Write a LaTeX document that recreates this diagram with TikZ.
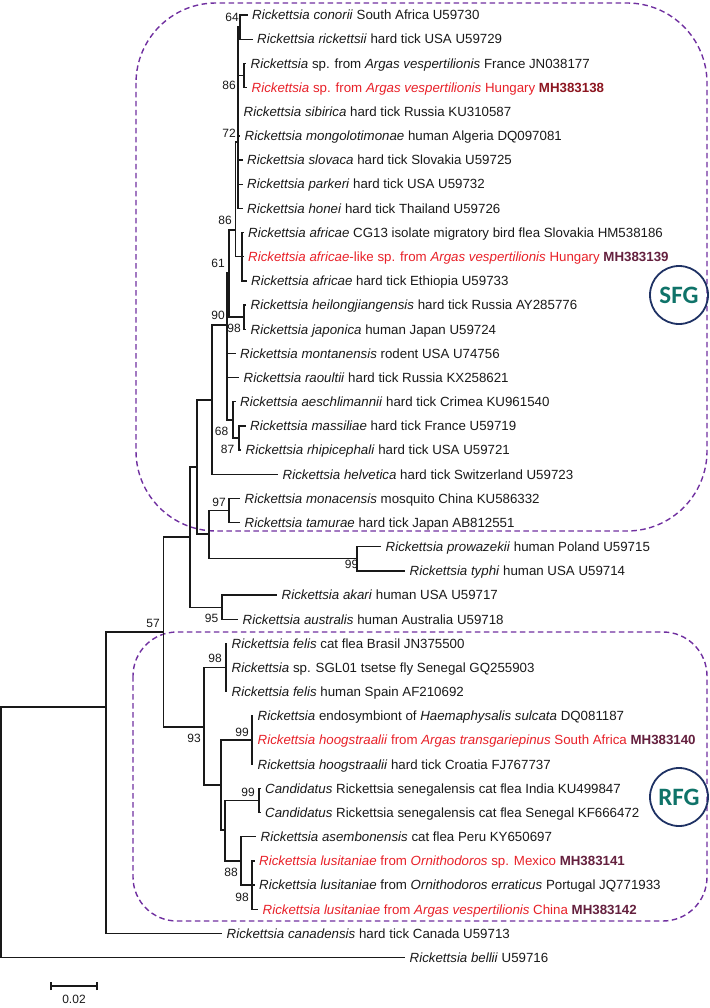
\documentclass[tikz,border=0pt]{standalone}
\usepackage{fontspec}
\setmainfont{Liberation Sans}
\newfontfamily\calib{Carlito}
\definecolor{txt}{RGB}{25,25,25}
\definecolor{redt}{RGB}{232,32,40}
\definecolor{accA}{RGB}{140,22,32}
\definecolor{accB}{RGB}{100,32,62}
\definecolor{grpc}{RGB}{112,48,160}
\definecolor{navy}{RGB}{31,50,100}
\definecolor{sfgtext}{RGB}{15,115,105}
\newcommand{\Rk}{\textit{Rickettsia}}
\begin{document}
\begin{tikzpicture}[x=1pt,y=-1pt,
  br/.style={line width=1.25pt, draw=black!90},
  leaf/.style={anchor=west, inner sep=0pt, xshift=4.5pt, font=\fontsize{13.3}{15}\selectfont, text height=9.6pt, text depth=0pt, text=txt},
  bs/.style={inner sep=0pt, font=\fontsize{12}{14}\selectfont, text=txt},
  grp/.style={draw=grpc, line width=1.4pt, dash pattern=on 5.5pt off 3.5pt},
  badge/.style={circle, draw=navy, line width=1.8pt, minimum size=58pt, inner sep=0pt, text=sfgtext, font=\calib\bfseries\fontsize{25}{25}\selectfont}
]
\useasboundingbox (0,0) rectangle (709,1008);

% group boxes
\draw[grp, rounded corners=80pt] (136,3) rectangle (707,531);
\draw[grp, rounded corners=44pt] (133,632) rectangle (707,921);

% internal nodes
\coordinate (R) at (1,832);
\coordinate (N106) at (106,707);
\coordinate (N57) at (163.5,632);
\coordinate (X) at (190,537);
\coordinate (Y) at (197,467);
\coordinate (W) at (212,400);
\coordinate (Z) at (209,534);
\coordinate (N97) at (229,510.5);
\coordinate (N99t) at (357,558.8);
\coordinate (N95) at (222,607.2);
\coordinate (N90) at (227,325);
\coordinate (N61) at (229,273);
\coordinate (Nhj) at (244,317);
\coordinate (N86b) at (235.5,230);
\coordinate (N72) at (238,142);
\coordinate (N64) at (240,27);
\coordinate (N86a) at (244,75.4);
\coordinate (Naf) at (242,256.7);
\coordinate (N68) at (233,420);
\coordinate (N87) at (239,438);
\coordinate (N93) at (204,727);
\coordinate (Nfel) at (226,667.6);
\coordinate (B) at (221,785);
\coordinate (Nhg) at (252,740.1);
\coordinate (C) at (225,830);
\coordinate (Ncand) at (259,800.5);
\coordinate (N88) at (241,861);
\coordinate (N98b) at (252,885.1);

% leaf tips
\coordinate (t1) at (247.5,15);
\coordinate (t2) at (252.5,39.2);
\coordinate (t3) at (246,63.3);
\coordinate (t4) at (247,87.5);
\coordinate (t5) at (239,111.7);
\coordinate (t6) at (240,135.9);
\coordinate (t7) at (242.5,160);
\coordinate (t8) at (242.5,184.2);
\coordinate (t9) at (242.5,208.4);
\coordinate (t10) at (243.5,232.5);
\coordinate (t11) at (243.5,256.7);
\coordinate (t12) at (246.5,280.9);
\coordinate (t13) at (246,305);
\coordinate (t14) at (246,329.2);
\coordinate (t15) at (235.5,353.4);
\coordinate (t16) at (239,377.6);
\coordinate (t17) at (235.5,401.7);
\coordinate (t18) at (245.5,425.9);
\coordinate (t19) at (241,450.1);
\coordinate (t20) at (278,474.2);
\coordinate (t21) at (240,498.4);
\coordinate (t22) at (240,522.6);
\coordinate (t23) at (381,546.7);
\coordinate (t24) at (405,570.9);
\coordinate (t25) at (277,595.1);
\coordinate (t26) at (238,619.3);
\coordinate (t27) at (227,643.4);
\coordinate (t28) at (227,667.6);
\coordinate (t29) at (227,691.8);
\coordinate (t30) at (253,715.9);
\coordinate (t31) at (253,740.1);
\coordinate (t32) at (253,764.3);
\coordinate (t33) at (260.5,788.4);
\coordinate (t34) at (260.5,812.6);
\coordinate (t35) at (256,836.8);
\coordinate (t36) at (254.5,861);
\coordinate (t37) at (254.5,885.1);
\coordinate (t38) at (258,909.3);
\coordinate (t39) at (222,933.5);
\coordinate (t40) at (405,957.6);

% branches
\draw[br] (R) |- (N106);  \draw[br] (R) |- (t40);
\draw[br] (N106) |- (N57); \draw[br] (N106) |- (t39);
\draw[br] (N57) |- (X);   \draw[br] (N57) |- (N93);
\draw[br] (X) |- (Y);     \draw[br] (X) |- (N95);
\draw[br] (Y) |- (W);     \draw[br] (Y) |- (Z);
\draw[br] (W) |- (N90);   \draw[br] (W) |- (t20);
\draw[br] (Z) |- (N97);   \draw[br] (Z) |- (N99t);
\draw[br] (N97) |- (t21); \draw[br] (N97) |- (t22);
\draw[br] (N99t) |- (t23); \draw[br] (N99t) |- (t24);
\draw[br] (N95) |- (t25); \draw[br] (N95) |- (t26);
\draw[br] (N90) |- (N61); \draw[br] (N90) |- (t15); \draw[br] (N90) |- (t16); \draw[br] (N90) |- (N68);
\draw[br] (N61) |- (N86b); \draw[br] (N61) |- (Nhj);
\draw[br] (Nhj) |- (t13); \draw[br] (Nhj) |- (t14);
\draw[br] (N86b) |- (N72); \draw[br] (N86b) |- (Naf);
\draw[br] (N72) |- (N64); \draw[br] (N72) |- (N86a); \draw[br] (N72) |- (t5); \draw[br] (N72) |- (t6);
\draw[br] (N72) |- (t7); \draw[br] (N72) |- (t8); \draw[br] (N72) |- (t9);
\draw[br] (N64) |- (t1); \draw[br] (N64) |- (t2);
\draw[br] (N86a) |- (t3); \draw[br] (N86a) |- (t4);
\draw[br] (Naf) |- (t10); \draw[br] (Naf) |- (t11); \draw[br] (Naf) |- (t12);
\draw[br] (N68) |- (t17); \draw[br] (N68) |- (N87);
\draw[br] (N87) |- (t18); \draw[br] (N87) |- (t19);
\draw[br] (N93) |- (Nfel); \draw[br] (N93) |- (B);
\draw[br] (Nfel) |- (t27); \draw[br] (Nfel) |- (t28); \draw[br] (Nfel) |- (t29);
\draw[br] (B) |- (Nhg); \draw[br] (B) |- (C);
\draw[br] (Nhg) |- (t30); \draw[br] (Nhg) |- (t31); \draw[br] (Nhg) |- (t32);
\draw[br] (C) |- (Ncand); \draw[br] (C) |- (N88);
\draw[br] (Ncand) |- (t33); \draw[br] (Ncand) |- (t34);
\draw[br] (N88) |- (t35); \draw[br] (N88) |- (N98b);
\draw[br] (N98b) |- (t36); \draw[br] (N98b) |- (t37); \draw[br] (N98b) |- (t38);

% leaf labels
\node[leaf] (L1) at (t1) {\Rk{} \textit{conorii} South Africa U59730};
\node[leaf] (L2) at (t2) {\Rk{} \textit{rickettsii} hard tick USA U59729};
\node[leaf] (L3) at (t3) {\Rk{} sp. from \textit{Argas vespertilionis} France JN038177};
\node[leaf, text=redt] (L4) at (t4) {\Rk{} sp. from \textit{Argas vespertilionis} Hungary \textcolor{accA}{\textbf{MH383138}}};
\node[leaf] (L5) at (t5) {\Rk{} \textit{sibirica} hard tick Russia KU310587};
\node[leaf] (L6) at (t6) {\Rk{} \textit{mongolotimonae} human Algeria DQ097081};
\node[leaf] (L7) at (t7) {\Rk{} \textit{slovaca} hard tick Slovakia U59725};
\node[leaf] (L8) at (t8) {\Rk{} \textit{parkeri} hard tick USA U59732};
\node[leaf] (L9) at (t9) {\Rk{} \textit{honei} hard tick Thailand U59726};
\node[leaf] (L10) at (t10) {\Rk{} \textit{africae} CG13 isolate migratory bird flea Slovakia HM538186};
\node[leaf, text=redt] (L11) at (t11) {\Rk{} \textit{africae}-like sp. from \textit{Argas vespertilionis} Hungary \textcolor{accB}{\textbf{MH383139}}};
\node[leaf] (L12) at (t12) {\Rk{} \textit{africae} hard tick Ethiopia U59733};
\node[leaf] (L13) at (t13) {\Rk{} \textit{heilongjiangensis} hard tick Russia AY285776};
\node[leaf] (L14) at (t14) {\Rk{} \textit{japonica} human Japan U59724};
\node[leaf] (L15) at (t15) {\Rk{} \textit{montanensis} rodent USA U74756};
\node[leaf] (L16) at (t16) {\Rk{} \textit{raoultii} hard tick Russia KX258621};
\node[leaf] (L17) at (t17) {\Rk{} \textit{aeschlimannii} hard tick Crimea KU961540};
\node[leaf] (L18) at (t18) {\Rk{} \textit{massiliae} hard tick France U59719};
\node[leaf] (L19) at (t19) {\Rk{} \textit{rhipicephali} hard tick USA U59721};
\node[leaf] (L20) at (t20) {\Rk{} \textit{helvetica} hard tick Switzerland U59723};
\node[leaf] (L21) at (t21) {\Rk{} \textit{monacensis} mosquito China KU586332};
\node[leaf] (L22) at (t22) {\Rk{} \textit{tamurae} hard tick Japan AB812551};
\node[leaf] (L23) at (t23) {\Rk{} \textit{prowazekii} human Poland U59715};
\node[leaf] (L24) at (t24) {\Rk{} \textit{typhi} human USA U59714};
\node[leaf] (L25) at (t25) {\Rk{} \textit{akari} human USA U59717};
\node[leaf] (L26) at (t26) {\Rk{} \textit{australis} human Australia U59718};
\node[leaf] (L27) at (t27) {\Rk{} \textit{felis} cat flea Brasil JN375500};
\node[leaf] (L28) at (t28) {\Rk{} sp. SGL01 tsetse fly Senegal GQ255903};
\node[leaf] (L29) at (t29) {\Rk{} \textit{felis} human Spain AF210692};
\node[leaf] (L30) at (t30) {\Rk{} endosymbiont of \textit{Haemaphysalis sulcata} DQ081187};
\node[leaf, text=redt] (L31) at (t31) {\Rk{} \textit{hoogstraalii} from \textit{Argas transgariepinus} South Africa \textcolor{accB}{\textbf{MH383140}}};
\node[leaf] (L32) at (t32) {\Rk{} \textit{hoogstraalii} hard tick Croatia FJ767737};
\node[leaf] (L33) at (t33) {\textit{Candidatus} Rickettsia senegalensis cat flea India KU499847};
\node[leaf] (L34) at (t34) {\textit{Candidatus} Rickettsia senegalensis cat flea Senegal KF666472};
\node[leaf] (L35) at (t35) {\Rk{} \textit{asembonensis} cat flea Peru KY650697};
\node[leaf, text=redt] (L36) at (t36) {\Rk{} \textit{lusitaniae} from \textit{Ornithodoros} sp. Mexico \textcolor{accB}{\textbf{MH383141}}};
\node[leaf] (L37) at (t37) {\Rk{} \textit{lusitaniae} from \textit{Ornithodoros erraticus} Portugal JQ771933};
\node[leaf, text=redt] (L38) at (t38) {\Rk{} \textit{lusitaniae} from \textit{Argas vespertilionis} China \textcolor{accB}{\textbf{MH383142}}};
\node[leaf] (L39) at (t39) {\Rk{} \textit{canadensis} hard tick Canada U59713};
\node[leaf] (L40) at (t40) {\Rk{} \textit{bellii} U59716};

% bootstrap values
\node[bs] (b64) at (232,17) {64};
\node[bs] (b86a) at (229,85) {86};
\node[bs] (b72) at (229,133) {72};
\node[bs] (b86b) at (225,220) {86};
\node[bs] (b61) at (218,263) {61};
\node[bs] (b90) at (218,315) {90};
\node[bs] (b98hj) at (234,328) {98};
\node[bs] (b68) at (221.5,431) {68};
\node[bs] (b87) at (227.5,449) {87};
\node[bs] (b97) at (219,502) {97};
\node[bs] (b99t) at (351.5,564) {99};
\node[bs] (b95) at (211.5,618) {95};
\node[bs] (b57) at (153,623) {57};
\node[bs] (b98f) at (215,658) {98};
\node[bs] (b99h) at (242,732) {99};
\node[bs] (b93) at (194,738) {93};
\node[bs] (b99c) at (248,792) {99};
\node[bs] (b88) at (231,872) {88};
\node[bs] (b98l) at (242,897) {98};

% group badges
\node[badge] (sfg) at (679,295) {SFG};
\node[badge] (rfg) at (679,797) {RFG};

% scale bar
\coordinate (sb1) at (51,986);
\coordinate (sb2) at (97,986);
\draw[br] (sb1) -- (sb2);
\draw[br] ([yshift=-4pt]sb1) -- ([yshift=4pt]sb1);
\draw[br] ([yshift=-4pt]sb2) -- ([yshift=4pt]sb2);
\node[bs] (sbl) at (74,999) {0.02};
\end{tikzpicture}
\end{document}
